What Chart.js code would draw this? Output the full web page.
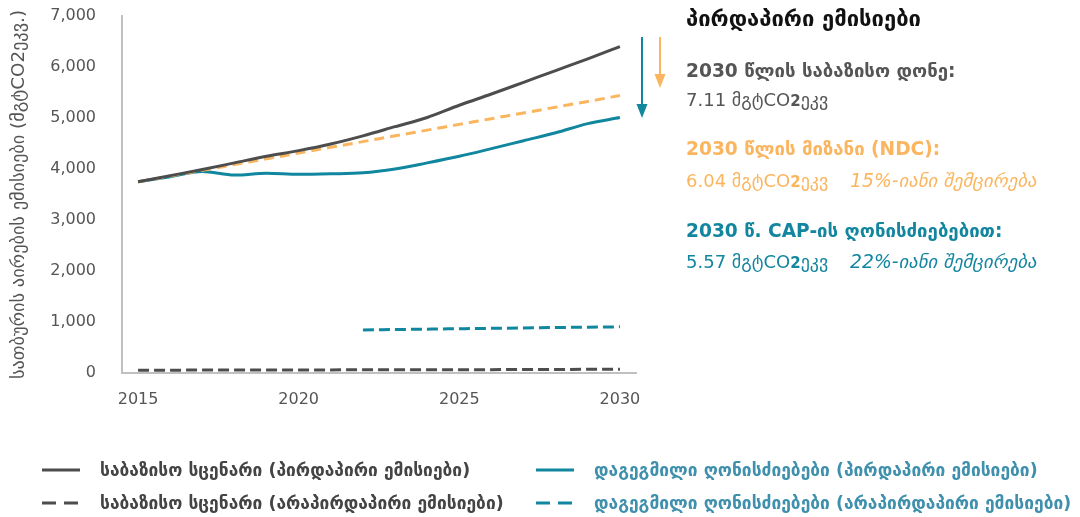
<!DOCTYPE html>
<html>
<head>
<meta charset="utf-8">
<script src="https://cdn.jsdelivr.net/npm/chart.js@4.4.1/dist/chart.umd.min.js"></script>
<style>
  html,body{margin:0;padding:0;background:#fff;}
  #wrap{position:relative;width:1080px;height:517px;overflow:hidden;font-family:"DejaVu Sans",sans-serif;}
  #c{position:absolute;left:0;top:0;}
  .p{position:absolute;left:686px;white-space:nowrap;font-size:18px;line-height:22px;}
  .b{font-weight:bold;font-size:18.6px;}
  .i{position:absolute;left:164px;font-style:italic;font-size:18.8px;}
  .sub{font-weight:bold;font-size:15px;}
  .lg{position:absolute;white-space:nowrap;font-weight:bold;font-size:17.4px;line-height:20px;}
  .lg svg{position:absolute;top:5px;}
</style>
</head>
<body>
<div id="wrap">
  <canvas id="c" width="1080" height="517"></canvas>
  <div class="p b" style="top:6px;font-size:22px;line-height:26px;color:#111;">პირდაპირი ემისიები</div>
  <div class="p b" style="top:60px;color:#555;">2030 წლის საბაზისო დონე:</div>
  <div class="p" style="top:89px;color:#555;">7.11 მგტCO<span class="sub">2</span>ეკვ</div>
  <div class="p b" style="top:138px;color:#fbb55e;">2030 წლის მიზანი (NDC):</div>
  <div class="p" style="top:170px;color:#fbb55e;">6.04 მგტCO<span class="sub">2</span>ეკვ<span class="i">15%-იანი შემცირება</span></div>
  <div class="p b" style="top:220px;color:#13869f;">2030 წ. CAP-ის ღონისძიებებით:</div>
  <div class="p" style="top:251px;color:#13869f;">5.57 მგტCO<span class="sub">2</span>ეკვ<span class="i">22%-იანი შემცირება</span></div>
  <div id="legend"></div>
</div>
<script>
const years = ['2015','2016','2017','2018','2019','2020','2021','2022','2023','2024','2025','2026','2027','2028','2029','2030'];
const baselineDirect   = [3750, 3870, 3990, 4120, 4250, 4360, 4490, 4650, 4830, 5010, 5250, 5470, 5700, 5930, 6160, 6400];
const ndcTarget        = [3750, 3862, 3975, 4087, 4200, 4312, 4425, 4537, 4650, 4762, 4875, 4987, 5100, 5212, 5325, 5440];
const capDirect        = [3750, 3850, 3950, 3880, 3915, 3895, 3905, 3925, 4000, 4120, 4250, 4400, 4555, 4710, 4890, 5010];
const baselineIndirect = [55, 56, 57, 58, 59, 60, 61, 62, 63, 64, 65, 66, 68, 70, 72, 75];
const capIndirect      = [null, null, null, null, null, null, null, 845, 852, 860, 868, 876, 884, 892, 899, 905];
const yTicks = [0, 1000, 2000, 3000, 4000, 5000, 6000, 7000];
const xTickYears = ['2015', '2020', '2025', '2030'];

const GRAY = '#4d4d4d', ORANGE = '#fbb55e', TEAL = '#10879f';
const FONT = '"DejaVu Sans", sans-serif';

const legendItems = [
  {label:'საბაზისო სცენარი (პირდაპირი ემისიები)', color:GRAY, text:'#444', dash:false, x:42, y:459},
  {label:'საბაზისო სცენარი (არაპირდაპირი ემისიები)', color:GRAY, text:'#444', dash:true, x:42, y:492},
  {label:'დაგეგმილი ღონისძიებები (პირდაპირი ემისიები)', color:TEAL, text:'#3f90ac', dash:false, x:536, y:459},
  {label:'დაგეგმილი ღონისძიებები (არაპირდაპირი ემისიები)', color:TEAL, text:'#3f90ac', dash:true, x:536, y:492}
];

const datasets = [
  {label:legendItems[0].label, data:baselineDirect, borderColor:GRAY, borderWidth:3},
  {label:'NDC', data:ndcTarget, borderColor:ORANGE, borderWidth:3, borderDash:[10,6]},
  {label:legendItems[2].label, data:capDirect, borderColor:TEAL, borderWidth:3},
  {label:legendItems[1].label, data:baselineIndirect, borderColor:GRAY, borderWidth:3, borderDash:[11,5]},
  {label:legendItems[3].label, data:capIndirect, borderColor:TEAL, borderWidth:3, borderDash:[11,5]}
];

const arrowPlugin = {
  id:'arrows',
  afterDatasetsDraw(chart){
    const {ctx, chartArea} = chart;
    const arrows = [
      {dx:6, y0:21, y1:102, color:TEAL},
      {dx:24, y0:21, y1:72, color:ORANGE}
    ];
    ctx.save();
    arrows.forEach(a=>{
      const x = chartArea.right + a.dx;
      const y0 = chartArea.top + a.y0, y1 = chartArea.top + a.y1;
      ctx.strokeStyle = a.color; ctx.fillStyle = a.color; ctx.lineWidth = 2;
      ctx.beginPath(); ctx.moveTo(x, y0); ctx.lineTo(x, y1 - 12); ctx.stroke();
      ctx.beginPath(); ctx.moveTo(x - 5.5, y1 - 14); ctx.lineTo(x + 5.5, y1 - 14); ctx.lineTo(x, y1); ctx.closePath(); ctx.fill();
    });
    ctx.restore();
  }
};

new Chart(document.getElementById('c'), {
  type:'line',
  data:{labels:years, datasets:datasets},
  plugins:[arrowPlugin],
  options:{
    responsive:false,
    animation:false,
    layout:{padding:{left:0, top:16, right:444, bottom:0}},
    plugins:{legend:{display:false}, tooltip:{enabled:false}},
    elements:{point:{radius:0}, line:{cubicInterpolationMode:'monotone', borderCapStyle:'butt', borderJoinStyle:'round'}},
    scales:{
      x:{
        type:'category', offset:true,
        grid:{display:false, drawTicks:false},
        border:{color:'#c0c0c0', width:2},
        ticks:{autoSkip:false, maxRotation:0, padding:17, color:'#555', font:{family:FONT, size:16},
          callback:(v,i)=> xTickYears.includes(years[i]) ? years[i] : ''},
        afterFit:s=>{s.height = 144; s.paddingLeft = 0; s.paddingRight = 0;}
      },
      y:{
        min:0, max:7000,
        grid:{display:false, drawTicks:false},
        border:{color:'#c0c0c0', width:2},
        afterBuildTicks:s=>{s.ticks = yTicks.map(v=>({value:v}));},
        ticks:{padding:26, color:'#555', font:{family:FONT, size:16},
          callback:v=> v.toLocaleString('en-US')},
        title:{display:true, text:'სათბურის აირების ემისიები (მგტCO2ეკვ.)', color:'#555',
          font:{family:FONT, size:18.3}, padding:{top:8, bottom:0}},
        afterFit:s=>{s.width = 122; s.paddingTop = 0; s.paddingBottom = 0;}
      }
    }
  }
});

const lg = document.getElementById('legend');
legendItems.forEach(it=>{
  const d = document.createElement('div');
  d.className = 'lg';
  d.style.left = it.x + 'px';
  d.style.top = (it.y + 1) + 'px';
  d.style.color = it.text;
  d.style.paddingLeft = '58px';
  const dash = it.dash ? 'stroke-dasharray="14 8"' : '';
  d.innerHTML = '<svg width="40" height="10" style="left:0"><line x1="0" y1="5" x2="38" y2="5" stroke="' + it.color + '" stroke-width="3" ' + dash + '/></svg>' + it.label;
  lg.appendChild(d);
});
</script>
</body>
</html>
